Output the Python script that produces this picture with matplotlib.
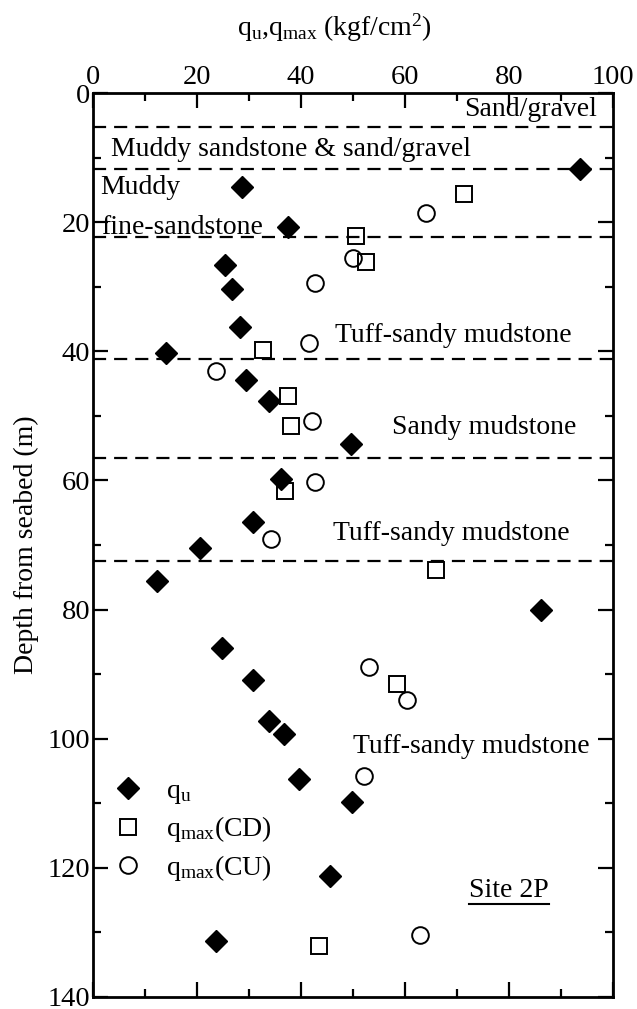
import matplotlib
matplotlib.use("Agg")
import matplotlib.pyplot as plt
from matplotlib.ticker import MultipleLocator
from matplotlib.lines import Line2D

plt.rcParams["font.family"] = "Liberation Serif"
plt.rcParams["mathtext.fontset"] = "custom"
plt.rcParams["mathtext.rm"] = "Liberation Serif"
plt.rcParams["mathtext.it"] = "Liberation Serif:italic"

# q_u (diamonds)
qu_val = [93.7, 28.6, 37.6, 25.3, 26.8, 28.3, 14.0, 29.5, 33.9, 49.7, 36.1, 30.8,
          20.6, 12.4, 86.1, 24.9, 30.8, 33.8, 36.7, 39.6, 49.8, 45.6, 23.7]
qu_depth = [11.7, 14.6, 20.7, 26.7, 30.4, 36.2, 40.3, 44.5, 47.7, 54.3, 59.7, 66.4,
            70.4, 75.6, 80.0, 85.9, 90.9, 97.2, 99.2, 106.2, 109.8, 121.2, 131.4]

# q_max (CD) squares
cd_val = [71.3, 50.6, 52.5, 32.8, 37.6, 38.1, 37.0, 66.0, 58.5, 43.4]
cd_depth = [15.6, 22.1, 26.2, 39.8, 46.9, 51.5, 61.7, 73.9, 91.5, 132.1]

# q_max (CU) circles
cu_val = [64.0, 50.1, 42.7, 41.6, 23.6, 42.1, 42.8, 34.2, 53.1, 60.4, 52.1, 62.9]
cu_depth = [18.6, 25.5, 29.4, 38.7, 43.0, 50.8, 60.3, 69.1, 88.9, 94.0, 105.8, 130.4]

# layer boundaries
boundaries = [5.2, 11.7, 22.3, 41.2, 56.5, 72.5]

# layer names: (text, x, depth, align)
layers = [
    ("Sand/gravel", 96.9, 2.5, "right"),
    ("Muddy sandstone & sand/gravel", 3.4, 8.7, "left"),
    ("Muddy", 1.3, 14.6, "left"),
    ("fine-sandstone", 1.5, 20.8, "left"),
    ("Tuff-sandy mudstone", 46.5, 37.6, "left"),
    ("Sandy mudstone", 57.6, 51.8, "left"),
    ("Tuff-sandy mudstone", 46.2, 68.2, "left"),
    ("Tuff-sandy mudstone", 50.1, 101.2, "left"),
]

fig = plt.figure(figsize=(6.37, 10.09), dpi=100)
ax = fig.add_axes([0.146, 0.0119, 0.816, 0.8959])

for b in boundaries:
    ax.plot([0, 100], [b, b], color="black", lw=1.6, ls=(0, (5.9, 3.6)), zorder=1)

ax.plot(qu_val, qu_depth, ls="none", marker="D", ms=11, color="black",
        label=r"$\mathrm{q_u}$", zorder=3)
ax.plot(cd_val, cd_depth, ls="none", marker="s", ms=11.5, mfc="none", mec="black",
        mew=1.4, label=r"$\mathrm{q_{max}}$(CD)", zorder=3)
ax.plot(cu_val, cu_depth, ls="none", marker="o", ms=12, mfc="none", mec="black",
        mew=1.4, label=r"$\mathrm{q_{max}}$(CU)", zorder=3)

for txt, x, y, ha in layers:
    ax.text(x, y, txt, ha=ha, va="center", fontsize=20)

site = ax.text(80, 123.5, "Site 2P", ha="center", va="center", fontsize=20)

ax.set_xlim(0, 100)
ax.set_ylim(140, 0)
ax.xaxis.set_major_locator(MultipleLocator(20))
ax.xaxis.set_minor_locator(MultipleLocator(10))
ax.yaxis.set_major_locator(MultipleLocator(20))
ax.yaxis.set_minor_locator(MultipleLocator(10))
ax.tick_params(which="both", direction="in", top=True, bottom=True, left=True, right=True,
               labeltop=True, labelbottom=False, width=1.6)
ax.tick_params(which="major", length=11, labelsize=20.5, pad=2)
ax.tick_params(which="minor", length=6)
for s in ax.spines.values():
    s.set_linewidth(2)

ax.xaxis.set_label_position("top")
ax.set_xlabel(r"$\mathrm{q_u}$,$\mathrm{q_{max}}$ (kgf/cm$^2$)", fontsize=20)
ax.xaxis.set_label_coords(0.465, 1.064)
ax.set_ylabel("Depth from seabed (m)", fontsize=20, labelpad=6)

ax.legend(loc="center left", bbox_to_anchor=(0.004, 0.184), frameon=False, fontsize=20,
          handlelength=1.0, handletextpad=0.85, labelspacing=0.3, borderpad=0.4,
          borderaxespad=0.3)

# underline for the site label
fig.canvas.draw()
bb = site.get_window_extent(fig.canvas.get_renderer())
y_line = bb.y0 - 1
x0, y0 = fig.transFigure.inverted().transform((bb.x0, y_line))
x1, _ = fig.transFigure.inverted().transform((bb.x1, y_line))
fig.add_artist(Line2D([x0, x1], [y0, y0], color="black", lw=1.5))

fig.savefig("out.png", dpi=100)
